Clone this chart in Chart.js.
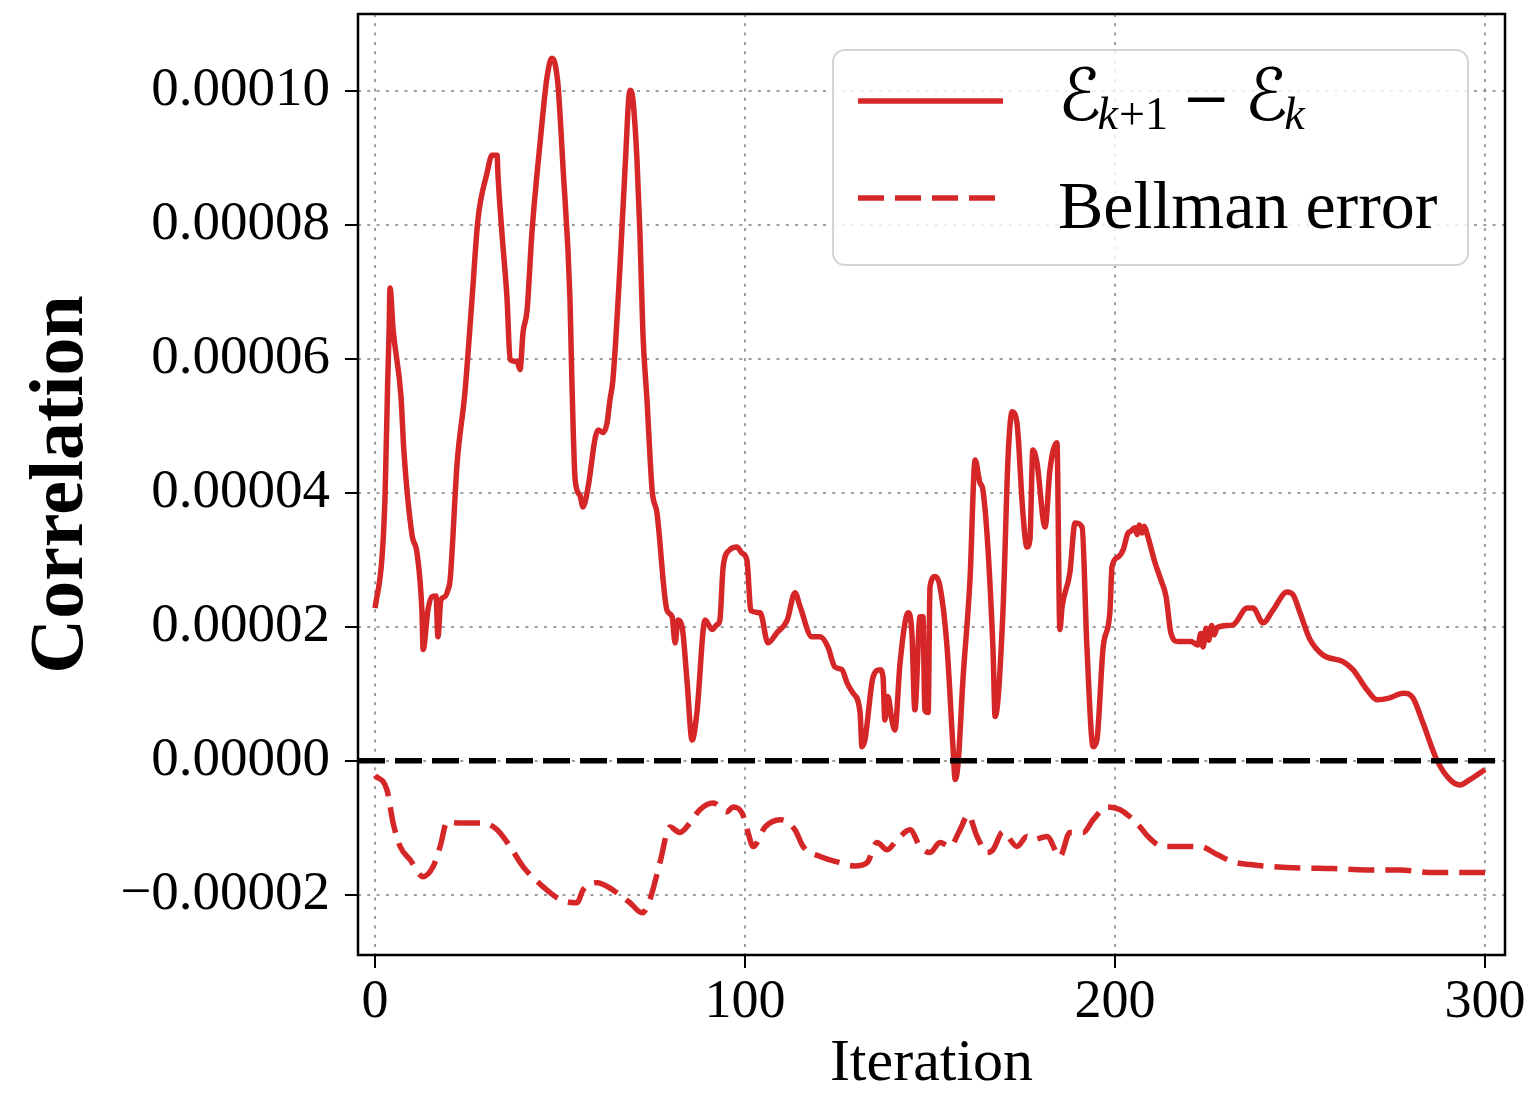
<!DOCTYPE html>
<html lang="en">
<head>
  <meta charset="UTF-8">
  <title>Correlation vs Iteration</title>
  <!-- Chart.js -->
  <script src="https://cdn.jsdelivr.net/npm/chart.js"></script>
  <style>
    body { margin: 0; background: #fff; }
    #wrap { width: 1531px; height: 1094px; position: relative; }
  </style>
</head>
<body>
  <div id="wrap"><canvas id="corrChart"></canvas></div>

  <script>
    // E_{k+1} - E_k, values in units of 1e-5
    const diffIter = [0, 1.9, 2.7, 3.4, 3.8, 4.05, 4.9, 7.0, 7.8, 10.0, 11.35, 12.7, 13.0, 14.3, 15.4, 16.5, 17.0, 17.8, 18.9, 19.7,
      20.3, 22.2, 24.3, 26.2, 27.8, 30.3, 31.6, 33.0, 33.2, 34.3, 35.7, 36.5, 38.4, 39.2, 40.0, 41.1, 42.4, 44.6, 46.5, 47.8,
      48.6, 49.5, 50.8, 52.7, 53.2, 54.1, 55.4, 56.2, 57.6, 59.5, 60.3, 61.6, 62.7, 63.5, 64.3, 66.2, 67.6, 68.9, 69.7, 70.8,
      71.6, 72.4, 73.5, 74.9, 76.2, 78.9, 80.3, 81.1, 81.9, 83.0, 84.3, 85.7, 87.0, 89.2, 91.1, 92.4, 93.2, 94.1, 95.9, 97.8,
      99.2, 100.5, 101.6, 104.1, 106.2, 108.6, 111.4, 113.5, 114.9, 118.1, 120.3, 122.4, 124.3, 126.2, 127.6, 129.2, 131.1, 131.6, 132.4, 134.6,
      136.5, 137.3, 137.8, 138.6, 139.7, 140.5, 141.9, 144.1, 145.1, 145.9, 147.3, 148.1, 148.6, 149.5, 150.0, 151.4, 152.7, 154.6, 156.2, 156.8,
      157.6, 158.9, 160.8, 162.2, 163.5, 164.3, 167.0, 167.6, 169.7, 171.1, 172.2, 173.5, 175.1, 176.2, 177.0, 177.8, 178.9, 181.1, 182.4, 184.3,
      185.1, 185.7, 187.8, 189.2, 191.1, 192.4, 194.1, 195.1, 196.8, 198.6, 199.2, 200.8, 202.2, 203.5, 204.1, 205.4, 206.0, 206.6, 207.3, 207.9,
      208.6, 210.8, 212.4, 213.8, 215.1, 217.0, 220.5, 222.4, 223.2, 223.8, 224.6, 225.3, 226.1, 226.8, 227.6, 231.9, 235.7, 237.3, 240.0, 242.7,
      246.5, 248.1, 250.0, 252.7, 256.2, 261.6, 264.3, 268.1, 270.8, 274.3, 277.8, 280.5, 283.2, 287.0, 290.5, 293.2, 295.9, 300.0];
    const diffVal = [2.28, 3.04, 3.94, 5.6, 6.4, 7.06, 6.43, 5.45, 4.63, 3.37, 3.10, 2.21, 1.66, 2.25, 2.45, 2.46, 1.85, 2.40, 2.45, 2.55,
      2.70, 4.45, 5.5, 6.88, 8.07, 8.78, 9.04, 9.04, 8.78, 7.88, 6.88, 5.99, 5.96, 5.84, 6.39, 6.73, 7.88, 9.22, 10.21, 10.49,
      10.42, 10.06, 8.87, 6.88, 5.69, 4.19, 3.96, 3.79, 4.09, 4.82, 4.94, 4.90, 5.04, 5.39, 5.69, 7.37, 8.87, 10.01, 9.87, 8.97,
      7.88, 6.39, 5.39, 4.04, 3.70, 2.25, 2.15, 1.76, 2.10, 2.0, 1.21, 0.31, 0.72, 2.10, 1.96, 2.03, 2.10, 2.90, 3.15, 3.19,
      3.10, 3.0, 2.24, 2.21, 1.76, 1.91, 2.10, 2.51, 2.30, 1.85, 1.85, 1.70, 1.40, 1.36, 1.16, 1.01, 0.72, 0.21, 0.31, 1.25,
      1.36, 1.25, 0.61, 0.96, 0.61, 0.46, 1.46, 2.21, 1.91, 0.76, 2.15, 2.15, 0.76, 0.72, 2.60, 2.75, 2.60, 1.70, 0.21, -0.28,
      -0.03, 1.21, 2.70, 4.49, 4.15, 4.04, 1.70, 0.66, 2.21, 4.54, 5.21, 5.04, 3.70, 3.19, 3.30, 4.64, 4.45, 3.49, 4.34, 4.75,
      1.96, 2.30, 2.81, 3.55, 3.49, 1.70, 0.21, 0.31, 1.70, 2.21, 2.90, 3.04, 3.15, 3.40, 3.42, 3.48, 3.38, 3.52, 3.40, 3.50,
      3.40, 2.96, 2.70, 2.45, 1.91, 1.78, 1.78, 1.73, 1.90, 1.70, 1.98, 1.80, 2.02, 1.88, 1.99, 2.03, 2.28, 2.28, 2.06, 2.25,
      2.52, 2.48, 2.21, 1.81, 1.58, 1.48, 1.36, 1.06, 0.91, 0.94, 1.01, 0.94, 0.57, 0.01, -0.28, -0.36, -0.28, -0.13];

    // Bellman error, same units
    const bellmanIter = [0, 3.2, 4.9, 6.8, 9.5, 13.0, 15.7, 17.6, 19.5, 23.0, 29.2, 33.0, 36.5, 40.0, 45.4, 50.0, 54.6, 56.2, 60.0, 64.3,
      68.9, 72.2, 74.3, 77.0, 79.7, 82.4, 85.1, 87.8, 91.4, 95.1, 96.8, 99.2, 100.8, 102.2, 105.4, 109.5, 113.5, 115.7, 120.3, 124.9,
      129.7, 133.0, 135.7, 138.4, 141.1, 144.6, 147.3, 150.0, 152.7, 155.4, 158.1, 160.3, 162.7, 165.4, 167.0, 169.7, 173.5, 176.2, 177.8, 181.6,
      185.1, 187.8, 191.4, 194.1, 197.8, 201.4, 204.1, 206.8, 208.9, 213.0, 218.4, 223.0, 227.6, 231.9, 236.5, 242.7, 250.0, 258.9, 268.1, 277.0,
      286.0, 300.0];
    const bellmanVal = [-0.22, -0.43, -0.93, -1.28, -1.48, -1.73, -1.58, -1.28, -0.91, -0.93, -0.93, -1.03, -1.28, -1.58, -1.88, -2.07, -2.12, -1.93, -1.82, -1.93,
      -2.12, -2.27, -2.07, -1.52, -0.99, -1.07, -0.93, -0.73, -0.63, -0.76, -0.69, -0.78, -1.07, -1.28, -0.99, -0.88, -1.03, -1.28, -1.43, -1.51,
      -1.57, -1.52, -1.22, -1.33, -1.18, -1.03, -1.28, -1.37, -1.22, -1.28, -1.03, -0.81, -1.13, -1.37, -1.33, -1.06, -1.28, -1.13, -1.18, -1.13,
      -1.43, -1.07, -1.07, -0.88, -0.69, -0.73, -0.84, -0.99, -1.13, -1.28, -1.28, -1.28, -1.40, -1.51, -1.55, -1.58, -1.60, -1.61, -1.63, -1.63,
      -1.67, -1.67];

    const xTicks = [0, 100, 200, 300];
    const yTicks = [-2, 0, 2, 4, 6, 8, 10];
    const yTickLabels = ['\u22120.00002', '0.00000', '0.00002', '0.00004', '0.00006', '0.00008', '0.00010'];
    const xRange = [-4.6, 305.4];
    const yRange = [-2.9, 11.15];

    const red = '#d62728';
    const serif = 'Liberation Serif';
    const gridColor = 'rgba(140,140,140,0.85)';

    const toPoints = (xs, ys) => xs.map((x, i) => ({ x: x, y: ys[i] }));

    // black box around the plotting area (all four spines)
    const frame = {
      id: 'frame',
      afterDatasetsDraw(chart) {
        const { ctx, chartArea: a } = chart;
        ctx.save();
        ctx.strokeStyle = '#000';
        ctx.lineWidth = 2.5;
        ctx.strokeRect(a.left, a.top, a.right - a.left, a.bottom - a.top);
        ctx.restore();
      }
    };

    // legend with the math label drawn as sub/superscript text
    const mathLegend = {
      id: 'mathLegend',
      afterDraw(chart) {
        const { ctx, chartArea: a } = chart;
        const w = 635, h = 215;
        const x = a.right - 37 - w, y = a.top + 36;
        ctx.save();
        ctx.beginPath();
        ctx.roundRect(x, y, w, h, 12);
        ctx.fillStyle = 'rgba(255,255,255,0.82)';
        ctx.fill();
        ctx.strokeStyle = '#d4d4d4';
        ctx.lineWidth = 2;
        ctx.stroke();

        const ds = chart.data.datasets;
        [[0, 51], [1, 148]].forEach(([i, dy]) => {
          const d = ds[i];
          ctx.beginPath();
          ctx.setLineDash(d.borderDash || []);
          ctx.strokeStyle = d.borderColor;
          ctx.lineWidth = d.borderWidth;
          ctx.moveTo(x + 25, y + dy);
          ctx.lineTo(x + 170, y + dy);
          ctx.stroke();
        });
        ctx.setLineDash([]);

        ctx.fillStyle = '#000';
        ctx.textBaseline = 'alphabetic';
        ctx.textAlign = 'left';
        let tx = x + 225;
        const base = y + 70;
        const put = (text, font, gap, dy) => {
          ctx.font = font;
          ctx.fillText(text, tx + gap, base + dy);
          tx += gap + ctx.measureText(text).width;
        };
        const big = 'italic 72px "DejaVu Serif", "DejaVu Sans"';
        const sub = 'italic 46px "' + serif + '"';
        put('\u2130', big, 0, 0);
        put('k', sub, -4, 9);
        put('+1', '46px "' + serif + '"', 1, 9);
        put('\u2212', '58px "DejaVu Serif"', 14, -2);
        put('\u2130', big, 14, 0);
        put('k', sub, -4, 9);

        ctx.font = '68px "' + serif + '"';
        ctx.fillText('Bellman error', x + 225, y + 178);
        ctx.restore();
      }
    };

    new Chart(document.getElementById('corrChart'), {
      type: 'line',
      data: {
        datasets: [
          {
            label: '\u2130\u2096\u208A\u2081 \u2212 \u2130\u2096',
            data: toPoints(diffIter, diffVal),
            borderColor: red,
            borderWidth: 5.5,
            pointRadius: 0,
            cubicInterpolationMode: 'monotone',
            order: 1
          },
          {
            label: 'Bellman error',
            data: toPoints(bellmanIter, bellmanVal),
            borderColor: red,
            borderWidth: 5.5,
            borderDash: [26, 11],
            pointRadius: 0,
            cubicInterpolationMode: 'monotone',
            order: 2
          },
          {
            label: 'zero',
            data: toPoints(xRange, [0, 0]),
            borderColor: '#000',
            borderWidth: 5.5,
            borderDash: [27, 10],
            pointRadius: 0,
            order: 0
          }
        ]
      },
      options: {
        responsive: true,
        maintainAspectRatio: false,
        animation: false,
        layout: { padding: { top: 14, right: 26, bottom: 0, left: 0 } },
        plugins: {
          legend: { display: false },
          tooltip: { enabled: false }
        },
        scales: {
          x: {
            type: 'linear',
            min: xRange[0],
            max: xRange[1],
            afterBuildTicks: s => { s.ticks = xTicks.map(v => ({ value: v })); },
            afterFit: s => { s.height = 139; s.paddingLeft = 0; s.paddingRight = 0; },
            grid: {
              color: gridColor,
              lineWidth: 2,
              tickLength: 13,
              tickColor: '#000',
              tickWidth: 2,
              tickBorderDash: []
            },
            border: { display: false, dash: [3, 6.3] },
            ticks: {
              autoSkip: false,
              maxRotation: 0,
              minRotation: 0,
              padding: 2,
              color: '#000',
              font: { family: serif, size: 54 },
              callback: v => String(v)
            },
            title: {
              display: true,
              text: 'Iteration',
              color: '#000',
              font: { family: serif, size: 60, lineHeight: 1 },
              padding: { top: 0, bottom: 0 }
            }
          },
          y: {
            type: 'linear',
            min: yRange[0],
            max: yRange[1],
            afterBuildTicks: s => { s.ticks = yTicks.map(v => ({ value: v })); },
            afterFit: s => { s.width = 358; s.paddingTop = 0; s.paddingBottom = 0; },
            grid: {
              color: gridColor,
              lineWidth: 2,
              tickLength: 13,
              tickColor: '#000',
              tickWidth: 2,
              tickBorderDash: []
            },
            border: { display: false, dash: [3, 6.3] },
            ticks: {
              autoSkip: false,
              padding: 15,
              color: '#000',
              font: { family: serif, size: 55 },
              callback: v => yTickLabels[yTicks.indexOf(v)]
            },
            title: {
              display: true,
              text: 'Correlation',
              color: '#000',
              font: { family: serif, size: 76, weight: 'bold', lineHeight: 1 },
              padding: { top: 24, bottom: 0 }
            }
          }
        }
      },
      plugins: [frame, mathLegend]
    });
  </script>
</body>
</html>
